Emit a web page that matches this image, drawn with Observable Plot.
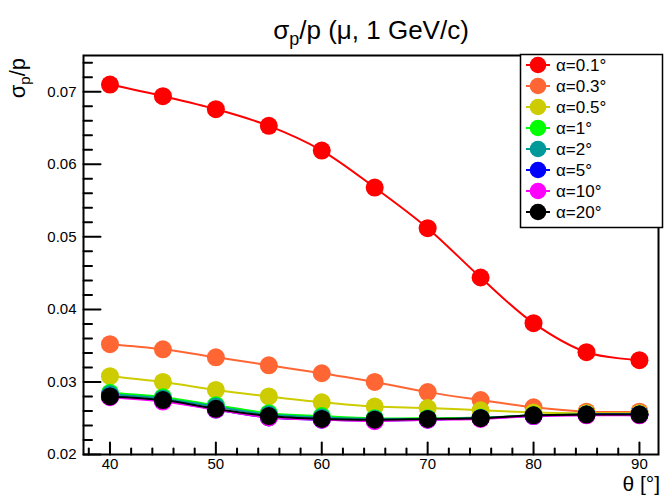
<!DOCTYPE html>
<html>
<head>
<meta charset="utf-8">
<script src="https://cdn.jsdelivr.net/npm/d3@7"></script>
<script src="https://cdn.jsdelivr.net/npm/@observablehq/plot@0.6"></script>
<style>
  body { margin: 0; background: #fff; }
  #chart { width: 665px; height: 499px; }
</style>
</head>
<body>
<div id="chart"></div>
<script>
// Polar angle of the track, degrees
const theta = [40, 45, 50, 55, 60, 65, 70, 75, 80, 85, 90];

// Relative momentum resolution sigma_p/p for 1 GeV/c muons, one array per alpha
const resAlpha01 = [0.0710, 0.0694, 0.0676, 0.0653, 0.0619, 0.0568, 0.0512, 0.0444, 0.0381, 0.0341, 0.0330];
const resAlpha03 = [0.0352, 0.0345, 0.0334, 0.0323, 0.0312, 0.0300, 0.0286, 0.0275, 0.0265, 0.0259, 0.0259];
const resAlpha05 = [0.0308, 0.0300, 0.0289, 0.0280, 0.0272, 0.0266, 0.0264, 0.0261, 0.0258, 0.0257, 0.0257];
const resAlpha1  = [0.0285, 0.0279, 0.0268, 0.0257, 0.0253, 0.0250, 0.0250, 0.0251, 0.0254, 0.0255, 0.0255];
const resAlpha2  = [0.0283, 0.0277, 0.0266, 0.0255, 0.0251, 0.0249, 0.0249, 0.0250, 0.0254, 0.0255, 0.0255];
const resAlpha5  = [0.0280, 0.0274, 0.0262, 0.0251, 0.0248, 0.0247, 0.0248, 0.0250, 0.0253, 0.0255, 0.0255];
const resAlpha10 = [0.0279, 0.0273, 0.0262, 0.0251, 0.0248, 0.0246, 0.0248, 0.0249, 0.0253, 0.0254, 0.0254];
const resAlpha20 = [0.0280, 0.0275, 0.0263, 0.0253, 0.0249, 0.0248, 0.0249, 0.0250, 0.0254, 0.0255, 0.0255];

const alphaLabels = ["α=0.1°", "α=0.3°", "α=0.5°", "α=1°", "α=2°", "α=5°", "α=10°", "α=20°"];
const seriesColors = ["#ff0000", "#ff6633", "#cccc00", "#00ff00", "#009999", "#0000ff", "#ff00ff", "#000000"];

// Axis ticks and labels
const xTicks = [40, 50, 60, 70, 80, 90];
const xTickLabels = ["40", "50", "60", "70", "80", "90"];
const xMinorTicks = [38, 42, 44, 46, 48, 52, 54, 56, 58, 62, 64, 66, 68, 72, 74, 76, 78, 82, 84, 86, 88];
const yTicks = [0.02, 0.03, 0.04, 0.05, 0.06, 0.07];
const yTickLabels = ["0.02", "0.03", "0.04", "0.05", "0.06", "0.07"];
const yMinorTicks = [0.022, 0.024, 0.026, 0.028, 0.032, 0.034, 0.036, 0.038, 0.042, 0.044, 0.046, 0.048,
                     0.052, 0.054, 0.056, 0.058, 0.062, 0.064, 0.066, 0.068, 0.072, 0.074];

const seriesValues = [resAlpha01, resAlpha03, resAlpha05, resAlpha1, resAlpha2, resAlpha5, resAlpha10, resAlpha20];
const series = seriesValues.map((vals, k) => ({
  label: alphaLabels[k],
  color: seriesColors[k],
  rows: vals.map((v, i) => ({theta: theta[i], value: v}))
}));

const FONT = "'Liberation Sans', Arial, Helvetica, sans-serif";

// Tick drawn from the axis line into the plot area
const inwardTick = {draw(context, l) { context.moveTo(0, 0); context.lineTo(0, -l); }};

const marks = [];
for (const s of series) {
  marks.push(Plot.line(s.rows, {x: "theta", y: "value", stroke: s.color, strokeWidth: 2, curve: "catmull-rom"}));
  marks.push(Plot.dot(s.rows, {x: "theta", y: "value", r: 9, fill: s.color}));
}

const chart = Plot.plot({
  width: 665,
  height: 499,
  marginLeft: 83,
  marginRight: 7,
  marginTop: 55,
  marginBottom: 45,
  style: {fontFamily: FONT, background: "#fff", color: "#000"},
  x: {domain: [37.5, 91.8]},
  y: {domain: [0.02, 0.075]},
  marks: [
    ...marks,
    Plot.frame({stroke: "#000", strokeWidth: 2}),
    // x ticks
    Plot.vectorX(xTicks, {x: d => d, frameAnchor: "bottom", anchor: "start", length: 12, shape: inwardTick, stroke: "#000", strokeWidth: 2}),
    Plot.vectorX(xMinorTicks, {x: d => d, frameAnchor: "bottom", anchor: "start", length: 6, shape: inwardTick, stroke: "#000", strokeWidth: 2}),
    // y ticks
    Plot.vectorY(yTicks, {y: d => d, frameAnchor: "left", anchor: "start", rotate: 90, length: 17, shape: inwardTick, stroke: "#000", strokeWidth: 2}),
    Plot.vectorY(yMinorTicks, {y: d => d, frameAnchor: "left", anchor: "start", rotate: 90, length: 8.5, shape: inwardTick, stroke: "#000", strokeWidth: 2}),
    Plot.axisX({ticks: xTicks, tickSize: 0, tickPadding: 4, fontSize: 15, label: null,
                tickFormat: d => xTickLabels[xTicks.indexOf(d)]}),
    Plot.axisY({ticks: yTicks, tickSize: 0, tickPadding: 7, fontSize: 15, label: null,
                tickFormat: d => yTickLabels[yTicks.findIndex(t => Math.abs(t - d) < 1e-9)]})
  ]
});

document.getElementById("chart").appendChild(chart);

const svg = d3.select(chart);

// Title
const title = svg.append("text")
  .attr("x", 371).attr("y", 39)
  .attr("text-anchor", "middle")
  .style("font-family", FONT).style("font-size", "26px").attr("fill", "#000");
title.append("tspan").text("σ");
title.append("tspan").attr("font-size", "18px").attr("dy", 6).text("p");
title.append("tspan").attr("dy", -6).text("/p (μ, 1 GeV/c)");

// Y axis title
const yTitle = svg.append("text")
  .attr("transform", "translate(25,58) rotate(-90)")
  .attr("text-anchor", "end")
  .style("font-family", FONT).style("font-size", "22px").attr("fill", "#000");
yTitle.append("tspan").text("σ");
yTitle.append("tspan").attr("font-size", "15px").attr("dy", 5).text("p");
yTitle.append("tspan").attr("dy", -5).text("/p");

// X axis title
svg.append("text")
  .attr("x", 660).attr("y", 491)
  .attr("text-anchor", "end")
  .style("font-family", FONT).style("font-size", "21px").attr("fill", "#000")
  .text("θ [°]");

// Legend
const lg = svg.append("g");
lg.append("rect")
  .attr("x", 520.5).attr("y", 54.5).attr("width", 142).attr("height", 173)
  .attr("fill", "#fff").attr("stroke", "#000").attr("stroke-width", 1.5);
series.forEach((s, i) => {
  const cy = 65 + 21 * i;
  const row = lg.append("g");
  row.append("line").attr("x1", 526).attr("x2", 550).attr("y1", cy).attr("y2", cy)
    .attr("stroke", s.color).attr("stroke-width", 2);
  row.append("circle").attr("cx", 538).attr("cy", cy).attr("r", 8.3).attr("fill", s.color);
  row.append("text").attr("x", 556).attr("y", cy + 6)
    .attr("text-anchor", "start")
    .style("font-family", FONT).style("font-size", "17px").attr("fill", "#000")
    .text(s.label);
});
</script>
</body>
</html>
